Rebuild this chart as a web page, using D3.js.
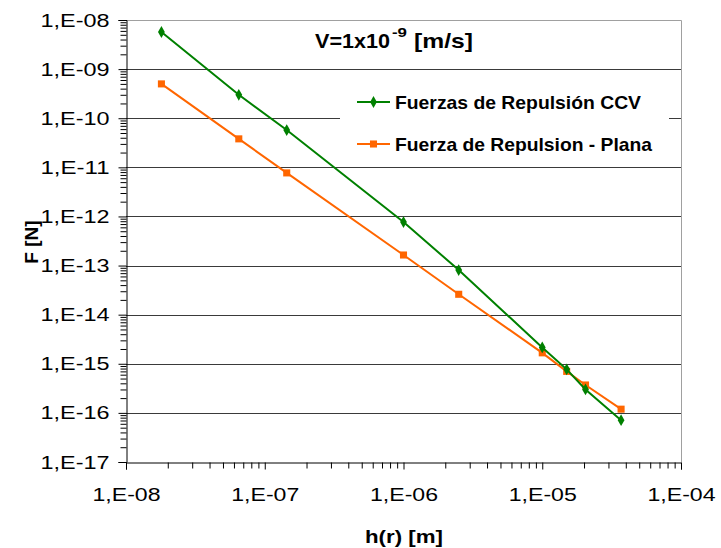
<!DOCTYPE html>
<html>
<head>
<meta charset="utf-8">
<script src="https://cdn.jsdelivr.net/npm/d3@7"></script>
<style>
  html, body { margin: 0; padding: 0; background: #fff; }
  svg { display: block; }
  text { font-family: "Liberation Sans", Arial, sans-serif; fill: #000; }
</style>
</head>
<body>
<script>
// ---- Data ----
const hValues = [1.8e-8, 6.5e-8, 1.44e-7, 1.0e-6, 2.5e-6, 1.0e-5, 1.5e-5, 2.05e-5, 3.7e-5];
const forceCCV = [5.7e-9, 3.0e-10, 5.75e-11, 7.7e-13, 8.1e-14, 2.15e-15, 7.7e-16, 3.0e-16, 7.1e-17];
const forcePlana = [5.0e-10, 3.8e-11, 7.7e-12, 1.64e-13, 2.6e-14, 1.67e-15, 7.0e-16, 3.7e-16, 1.19e-16];
const seriesNames = ["Fuerzas de Repulsión CCV", "Fuerza de Repulsion - Plana"];
const xTickValues = [1e-8, 1e-7, 1e-6, 1e-5, 1e-4];
const xTickLabels = ["1,E-08", "1,E-07", "1,E-06", "1,E-05", "1,E-04"];
const yTickValues = [1e-17, 1e-16, 1e-15, 1e-14, 1e-13, 1e-12, 1e-11, 1e-10, 1e-9, 1e-8];
const yTickLabels = ["1,E-17", "1,E-16", "1,E-15", "1,E-14", "1,E-13", "1,E-12", "1,E-11", "1,E-10", "1,E-09", "1,E-08"];
const titleMain = "V=1x10", titleSup = "-9", titleUnit = "[m/s]";
const xTitle = "h(r) [m]", yTitle = "F [N]";

const W = 721, H = 548;
const L = 126, R = 681, T = 20, B = 462;
const green = "#008000", orange = "#FF6600";

const svg = d3.select("body").append("svg").attr("width", W).attr("height", H);

const x = d3.scaleLog().domain([1e-8, 1e-4]).range([L, R]);
const y = d3.scaleLog().domain([1e-17, 1e-8]).range([B, T]);

// plot border (top + right, gray)
svg.append("path").attr("d", `M${L},${T + 0.5}H${R + 0.5}V${B}`)
  .attr("fill", "none").attr("stroke", "#a0a0a0").attr("stroke-width", 1);

// horizontal gridlines
svg.append("g").selectAll("line").data(yTickValues.slice(1, -1)).join("line")
  .attr("x1", L).attr("x2", R)
  .attr("y1", d => Math.round(y(d)) + 0.5).attr("y2", d => Math.round(y(d)) + 0.5)
  .attr("stroke", "#3a3a3a").attr("stroke-width", 1);

// minor tick values
const minor = (lo, hi) => {
  const out = [];
  for (let e = lo; e < hi; e++) for (let k = 2; k <= 9; k++) out.push(k * Math.pow(10, e));
  return out;
};

// y axis
const yAxisMinor = d3.axisLeft(y).tickValues(minor(-17, -8)).tickSize(6).tickFormat("");
const yAxisMajor = d3.axisLeft(y).tickValues(yTickValues).tickSize(8).tickPadding(9)
  .tickFormat((d, i) => yTickLabels[i]);
const gyMin = svg.append("g").attr("transform", `translate(${L + 0.5},0)`).call(yAxisMinor);
const gy = svg.append("g").attr("transform", `translate(${L + 0.5},0)`).call(yAxisMajor);
[gy, gyMin].forEach(g => {
  g.select(".domain").attr("stroke", "#000");
  g.selectAll(".tick line").attr("stroke", "#000");
});
gyMin.select(".domain").remove();
gy.selectAll(".tick text").attr("font-size", 19).attr("fill", "#000")
  .attr("textLength", 69).attr("lengthAdjust", "spacingAndGlyphs");

// x axis
const xAxisMinor = d3.axisBottom(x).tickValues(minor(-8, -4)).tickSize(6).tickFormat("");
const xAxisMajor = d3.axisBottom(x).tickValues(xTickValues).tickSize(7).tickPadding(18)
  .tickFormat((d, i) => xTickLabels[i]);
const gxMin = svg.append("g").attr("transform", `translate(0,${B + 0.5})`).call(xAxisMinor);
const gx = svg.append("g").attr("transform", `translate(0,${B + 0.5})`).call(xAxisMajor);
[gx, gxMin].forEach(g => {
  g.select(".domain").attr("stroke", "#000");
  g.selectAll(".tick line").attr("stroke", "#000");
});
gxMin.select(".domain").remove();
gx.selectAll(".tick text").attr("font-size", 19).attr("fill", "#000")
  .attr("textLength", 68).attr("lengthAdjust", "spacingAndGlyphs");

// series
const seriesData = [
  { name: seriesNames[0], vals: forceCCV, color: green, shape: d3.symbolDiamond, size: 40, tl: 246 },
  { name: seriesNames[1], vals: forcePlana, color: orange, shape: d3.symbolSquare, size: 50, tl: 257 }
];
const line = d3.line().x(d => x(d[0])).y(d => y(d[1]));

seriesData.slice().reverse().forEach(s => {
  const pts = hValues.map((h, i) => [h, s.vals[i]]);
  svg.append("path").datum(pts).attr("d", line)
    .attr("fill", "none").attr("stroke", s.color).attr("stroke-width", 2);
  svg.append("g").selectAll("path").data(pts).join("path")
    .attr("transform", d => `translate(${x(d[0])},${y(d[1])})`)
    .attr("d", d3.symbol().type(s.shape).size(s.size))
    .attr("fill", s.color);
});

// legend
const lg = svg.append("g");
lg.append("rect").attr("x", 340).attr("y", 84).attr("width", 329).attr("height", 76).attr("fill", "#fff");
seriesData.forEach((s, i) => {
  const cy = 102 + i * 42;
  lg.append("line").attr("x1", 357).attr("x2", 390).attr("y1", cy).attr("y2", cy)
    .attr("stroke", s.color).attr("stroke-width", 2);
  lg.append("path").attr("transform", `translate(373.5,${cy})`)
    .attr("d", d3.symbol().type(s.shape).size(s.size)).attr("fill", s.color);
  lg.append("text").attr("x", 395).attr("y", cy + 6.5).attr("font-size", 19)
    .attr("font-weight", "bold")
    .attr("textLength", s.tl).attr("lengthAdjust", "spacingAndGlyphs").text(s.name);
});

// title
svg.append("text").attr("x", 315).attr("y", 48).attr("font-size", 20.5).attr("font-weight", "bold")
  .attr("textLength", 75).attr("lengthAdjust", "spacingAndGlyphs").text(titleMain);
svg.append("text").attr("x", 392).attr("y", 37).attr("font-size", 12.5).attr("font-weight", "bold")
  .attr("textLength", 15).attr("lengthAdjust", "spacingAndGlyphs").text(titleSup);
svg.append("text").attr("x", 414).attr("y", 48).attr("font-size", 20.5).attr("font-weight", "bold")
  .attr("textLength", 59).attr("lengthAdjust", "spacingAndGlyphs").text(titleUnit);

// axis titles
svg.append("text").attr("x", 404).attr("y", 543).attr("text-anchor", "middle")
  .attr("font-size", 18.6).attr("font-weight", "bold")
  .attr("textLength", 78).attr("lengthAdjust", "spacingAndGlyphs").text(xTitle);
svg.append("text").attr("transform", "translate(38,242) rotate(-90)").attr("text-anchor", "middle")
  .attr("font-size", 19).attr("font-weight", "bold").text(yTitle);
</script>
</body>
</html>
